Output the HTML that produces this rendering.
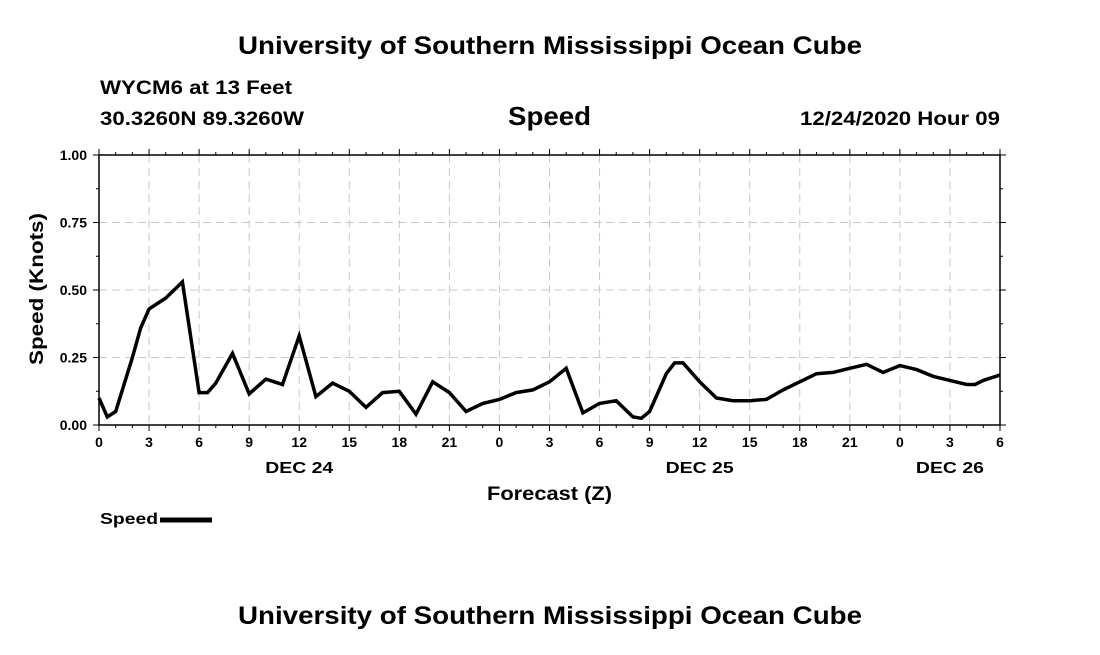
<!DOCTYPE html>
<html><head><meta charset="utf-8"><style>
body{margin:0;background:#fff;}
svg text{font-family:"Liberation Sans",sans-serif;font-weight:bold;fill:#000;}
</style></head><body>
<svg id="chart" width="1100" height="650" xmlns="http://www.w3.org/2000/svg">
<text x="238" y="54" font-size="25" textLength="624" lengthAdjust="spacingAndGlyphs">University of Southern Mississippi Ocean Cube</text>
<text x="100" y="94" font-size="19" textLength="192" lengthAdjust="spacingAndGlyphs">WYCM6 at 13 Feet</text>
<text x="100" y="125" font-size="19" textLength="204" lengthAdjust="spacingAndGlyphs">30.3260N 89.3260W</text>
<text x="508" y="125" font-size="26" textLength="83" lengthAdjust="spacingAndGlyphs">Speed</text>
<text x="800" y="125" font-size="19" textLength="200" lengthAdjust="spacingAndGlyphs">12/24/2020 Hour 09</text>
<g id="grid"></g><g id="axes"></g><g id="series"></g>
<text transform="translate(43,365) rotate(-90)" font-size="19" textLength="152" lengthAdjust="spacingAndGlyphs">Speed (Knots)</text>
<text x="487" y="500" font-size="19" textLength="125" lengthAdjust="spacingAndGlyphs">Forecast (Z)</text>
<g>
<text x="100" y="524" font-size="16" textLength="58" lengthAdjust="spacingAndGlyphs">Speed</text>
<line x1="160" y1="520" x2="212" y2="520" stroke="#000" stroke-width="5"/>
</g>
<text x="238" y="624" font-size="25" textLength="624" lengthAdjust="spacingAndGlyphs">University of Southern Mississippi Ocean Cube</text>
</svg>
<script>
const hours=[0,0.5,1,2,2.5,3,3.5,4,4.5,5,6,6.5,7,8,9,10,11,12,13,14,15,16,17,18,19,20,21,22,23,24,25,26,27,28,29,30,31,32,32.5,33,34,34.5,35,36,37,38,39,40,41,42,43,44,45,46,47,48,49,50,51,52,52.5,53,54];
const speeds=[0.10,0.03,0.05,0.25,0.36,0.43,0.45,0.47,0.50,0.53,0.12,0.12,0.155,0.265,0.115,0.17,0.15,0.33,0.105,0.155,0.125,0.065,0.12,0.125,0.04,0.16,0.12,0.05,0.08,0.095,0.12,0.13,0.16,0.21,0.045,0.08,0.09,0.03,0.025,0.05,0.19,0.23,0.23,0.16,0.10,0.09,0.09,0.095,0.13,0.16,0.19,0.195,0.21,0.225,0.195,0.22,0.205,0.18,0.165,0.15,0.15,0.165,0.185];
const xTickLabels=["0","3","6","9","12","15","18","21","0","3","6","9","12","15","18","21","0","3","6"];
const yTicks=[0,0.25,0.5,0.75,1.0];
const dayLabels=["DEC 24","DEC 25","DEC 26"];
const dayHours=[12,36,51];
const X0=99,X1=1000,Y0=425,Y1=155,HMAX=54;
const xs=h=>X0+(X1-X0)*h/HMAX;
const ys=v=>Y0-(Y0-Y1)*v/1.0;
const NS="http://www.w3.org/2000/svg";
function mk(tag,attrs,parent,txt){const e=document.createElementNS(NS,tag);for(const k in attrs)e.setAttribute(k,attrs[k]);if(txt!==undefined)e.textContent=txt;parent.appendChild(e);return e;}
const grid=document.getElementById('grid'),axes=document.getElementById('axes'),series=document.getElementById('series');
xTickLabels.forEach((l,i)=>{const x=xs(i*3);
 if(i>0&&i<xTickLabels.length-1){const g=mk('line',{x1:x,x2:x,y1:Y1,y2:Y0,stroke:'#c8c8c8','stroke-dasharray':'8,5'},grid);
 
 }
 const t=mk('text',{x:x,y:Y0+22,'font-size':'14','text-anchor':'middle'},axes,l);
 
 
 mk('line',{x1:x,x2:x,y1:Y0,y2:Y0+6,stroke:'#000'},axes);
 mk('line',{x1:x,x2:x,y1:Y1,y2:Y1-6,stroke:'#000'},axes);
});
for(let h=1;h<HMAX;h++){if(h%3){const x=xs(h);mk('line',{x1:x,x2:x,y1:Y0,y2:Y0+3,stroke:'#000'},axes);mk('line',{x1:x,x2:x,y1:Y1,y2:Y1-3,stroke:'#000'},axes);}}
yTicks.forEach(v=>{const y=ys(v);
 if(v>0&&v<1){const g=mk('line',{x1:X0,x2:X1,y1:y,y2:y,stroke:'#c8c8c8','stroke-dasharray':'8,5'},grid);
 
 }
 const t=mk('text',{x:X0-12,y:y+5,'font-size':'14','text-anchor':'end'},axes,v.toFixed(2));
 
 
 mk('line',{x1:X0-6,x2:X0,y1:y,y2:y,stroke:'#000'},axes);
 mk('line',{x1:X1,x2:X1+6,y1:y,y2:y,stroke:'#000'},axes);
});
for(let v=0.125;v<1;v+=0.25){const y=ys(v);mk('line',{x1:X0-3,x2:X0,y1:y,y2:y,stroke:'#000'},axes);mk('line',{x1:X1,x2:X1+3,y1:y,y2:y,stroke:'#000'},axes);}
dayLabels.forEach((d,i)=>{const t=mk('text',{x:xs(dayHours[i]),y:Y0+48,'font-size':'16','text-anchor':'middle',textLength:'68',lengthAdjust:'spacingAndGlyphs'},axes,d);
 
 });
const fr=mk('rect',{x:X0,y:Y1,width:X1-X0,height:Y0-Y1,fill:'none',stroke:'#000','stroke-width':'1.5'},axes);


const pts=hours.map((h,i)=>xs(h).toFixed(1)+','+ys(speeds[i]).toFixed(1)).join(' ');
const pl=mk('polyline',{points:pts,fill:'none',stroke:'#000','stroke-width':'3.5','stroke-linejoin':'miter'},series);


</script>
</body></html>
